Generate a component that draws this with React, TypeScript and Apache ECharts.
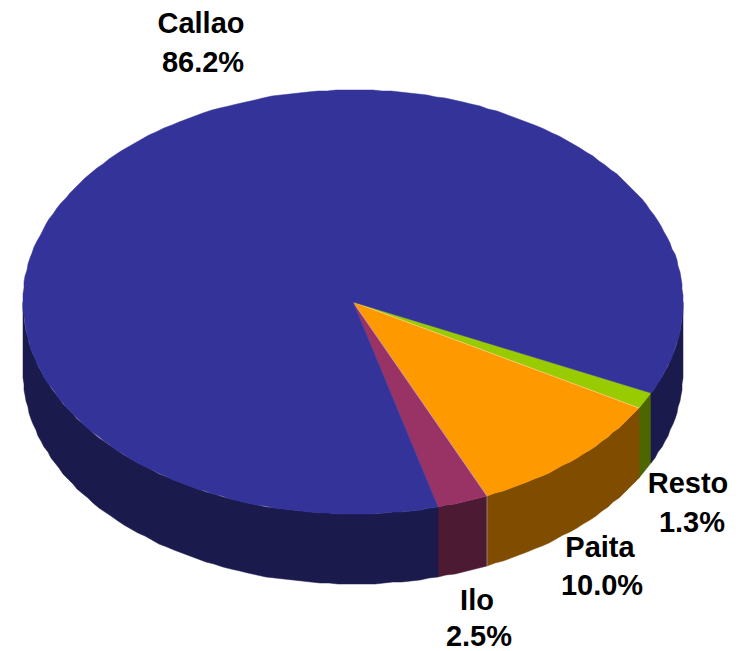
import React, { useEffect, useRef } from "react";
import * as echarts from "echarts";

const categories = ["Resto", "Paita", "Ilo", "Callao"];
const shares = [1.3, 10.0, 2.5, 86.2];
const topColors = ["#99cc00", "#ff9900", "#993366", "#333399"];
const wallColors = ["#4d6600", "#804d00", "#4d1a33", "#1a1a4d"];
const labelCentres = [
  [[688, 483], [692, 522]],
  [[600, 547], [602, 585]],
  [[477, 600], [479, 636]],
  [[201, 23], [203, 62]],
];

const CX = 353;
const CY = 302;
const RX = 330;
const RY = 212;
const DEPTH = 70;
const START_DEG = 25.4;
const STEP_DEG = 1.6;
const SEAM = "rgba(255,255,255,0.4)";

const total = shares.reduce((s, v) => s + v, 0);

function rim(a0: number, a1: number, dy: number): number[][] {
  const pts: number[][] = [];
  const n = Math.max(1, Math.ceil((a1 - a0) / STEP_DEG));
  for (let i = 0; i <= n; i++) {
    const a = ((a0 + ((a1 - a0) * i) / n) * Math.PI) / 180;
    pts.push([Math.round(CX + RX * Math.cos(a)), Math.round(CY + RY * Math.sin(a) + dy)]);
  }
  return pts;
}

function wall(a0: number, a1: number, fill: string) {
  const top = rim(a0, a1, 0);
  const bottom = rim(a0, a1, DEPTH).reverse();
  return {
    type: "polygon",
    shape: { points: top.concat(bottom) },
    style: { fill, stroke: fill, lineWidth: 0.5 },
  };
}

function seam(x1: number, y1: number, x2: number, y2: number) {
  return {
    type: "line",
    shape: { x1, y1, x2, y2 },
    style: { stroke: SEAM, lineWidth: 1, fill: "none" },
  };
}

function renderItem(params: any, api: any) {
  const i = params.dataIndex;
  let before = 0;
  for (let k = 0; k < i; k++) before += shares[k];
  const a0 = START_DEG + (before / total) * 360;
  const a1 = a0 + (api.value(0) / total) * 360;
  const children: any[] = [];
  for (const [lo, hi] of [[0, 180], [360, 540]]) {
    const s = Math.max(a0, lo);
    const e = Math.min(a1, hi);
    if (e > s) children.push(wall(s, e, wallColors[i]));
  }
  children.push({
    type: "polygon",
    shape: { points: [[CX, CY], ...rim(a0, a1, 0)] },
    style: { fill: topColors[i], stroke: topColors[i], lineWidth: 0.5 },
  });
  if (i > 0 && i < categories.length - 1) {
    const [p] = rim(a0, a0, 0);
    children.push(seam(CX, CY, p[0], p[1]));
    if (i === 2) children.push(seam(p[0], p[1], p[0], p[1] + DEPTH));
  }
  const texts = [categories[i], api.value(0).toFixed(1) + "%"];
  texts.forEach((text, t) => {
    children.push({
      type: "text",
      style: {
        text,
        x: labelCentres[i][t][0],
        y: labelCentres[i][t][1],
        align: "center",
        verticalAlign: "middle",
        fontFamily: "Liberation Sans",
        fontWeight: "bold",
        fontSize: 29,
        fill: "#000000",
      },
    });
  });
  return { type: "group", children };
}

export default function App() {
  const ref = useRef<HTMLDivElement>(null);
  useEffect(() => {
    const chart = echarts.init(ref.current!, null, { renderer: "svg" });
    chart.setOption({
      animation: false,
      backgroundColor: "#ffffff",
      series: [
        {
          type: "custom",
          coordinateSystem: "none",
          renderItem,
          silent: true,
          data: shares.map((value, i) => ({ name: categories[i], value: [value] })),
        },
      ],
    });
    return () => chart.dispose();
  }, []);
  return <div ref={ref} style={{ position: "absolute", left: 0, top: 0, width: 740, height: 651 }} />;
}
